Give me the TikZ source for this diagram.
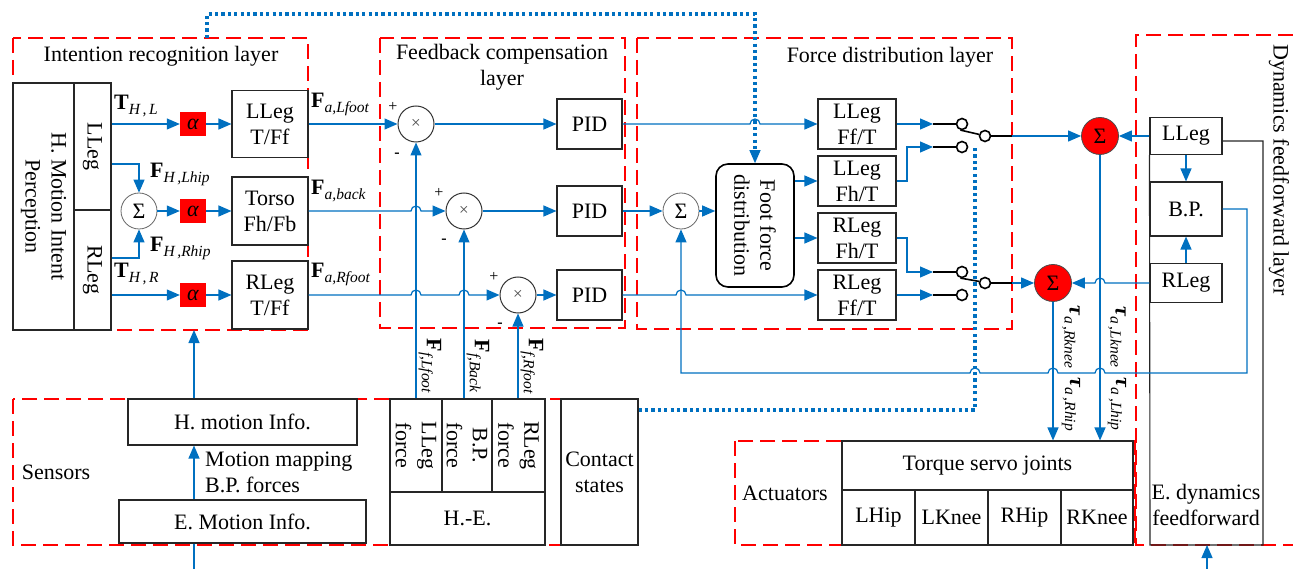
\documentclass[tikz,border=0pt]{standalone}
\usepackage{fontspec}
\setmainfont{Liberation Serif}
\usetikzlibrary{arrows.meta,calc}
\definecolor{fb}{HTML}{0070C0}
\definecolor{rd}{HTML}{FF0000}
\newcommand{\vlab}[2]{\textbf{#1}\raisebox{-5pt}{\fontsize{15.5}{16}\selectfont\textit{#2}}}
\begin{document}
\begin{tikzpicture}[x=1pt,y=-1pt,
  every node/.style={font=\fontsize{22}{26}\selectfont, inner sep=0pt, align=center},
  layer/.style={draw=rd, line width=2.3pt, dash pattern=on 15pt off 7pt},
  blk/.style={draw=black!85, line width=1.1pt, fill=white},
  conn/.style={draw=fb, line width=1.2pt},
  arr/.style={conn, -{Triangle[length=13pt,width=11pt]}},
  dotl/.style={draw=fb, line width=3.2pt, dash pattern=on 3.2pt off 3.2pt},
  sumc/.style={circle, draw=black!60, line width=0.8pt, fill=white, minimum size=36pt},
  redsum/.style={circle, draw=black!70, line width=0.8pt, fill=red, minimum size=37pt},
  mulc/.style={circle, draw=black!80, line width=1pt, fill=white, minimum size=36pt, font=\fontsize{17}{17}\selectfont\color{black!70}},
  alp/.style={fill=red, minimum width=26pt, minimum height=24pt},
  swc/.style={circle, draw=black, line width=1.6pt, fill=white, minimum size=11pt},
  swl/.style={draw=black, line width=1.6pt},
  sgn/.style={font=\fontsize{16}{16}\selectfont},
]
\useasboundingbox (0,0) rectangle (1293,569);

% ---------------- layers ----------------
\draw[layer] (13,38) rectangle (308,330);
\draw[layer] (380,38) rectangle (625,328);
\draw[layer] (637,38) rectangle (1012,329);
\draw[layer] (1293,35) -- (1136,35) -- (1136,545) -- (1293,545);
\draw[layer] (13,399) rectangle (638,545);
\draw[layer] (735,441) rectangle (1135,545);

\node at (161,56) {Intention recognition layer};
\node at (502,67) {Feedback compensation\\layer};
\node at (890,57) {Force distribution layer};
\node[rotate=-90] at (1279,170) {Dynamics feedforward layer};
\node at (56,472) {Sensors};
\node at (785,493) {Actuators};

% ---------------- intention layer ----------------
\node[blk, minimum width=61pt, minimum height=247pt] (hmip) at (43.5,206.5) {};
\node[rotate=-90] at (hmip) {H. Motion Intent\\Perception};
\node[blk, minimum width=37pt, minimum height=127pt] (lleg) at (92.5,146.5) {};
\node[rotate=-90] at (lleg) {LLeg};
\node[blk, minimum width=37pt, minimum height=120pt] (rleg) at (92.5,270) {};
\node[rotate=-90] at (rleg) {RLeg};

\node[alp] (a1) at (193,124) {\textit{α}};
\node[alp] (a2) at (193,211) {\textit{α}};
\node[alp] (a3) at (193,295) {\textit{α}};
\node[sumc] (sigL) at (139,211) {Σ};

\node[blk, minimum width=76pt, minimum height=67pt] (lt) at (270,124) {LLeg\\T/Ff};
\node[blk, minimum width=76pt, minimum height=68pt] (torso) at (270,211) {Torso\\Fh/Fb};
\node[blk, minimum width=76pt, minimum height=68pt] (rt) at (270,295) {RLeg\\T/Ff};

\draw[arr] (lleg.east |- a1.west) -- (a1.west);
\draw[arr] (a1.east) -- (lt.west);
\draw[arr] (lleg.east |- 0,164) -| (sigL.north);
\draw[arr] (rleg.east |- 0,258) -| (sigL.south);
\draw[arr] (sigL.east) -- (a2.west);
\draw[arr] (a2.east) -- (torso.west);
\draw[arr] (rleg.east |- a3.west) -- (a3.west);
\draw[arr] (a3.east) -- (rt.west);

\node[anchor=west] at (114,106) {\vlab{T}{H\,,\,L}};
\node[anchor=west] at (150,174) {\vlab{F}{H\,,Lhip}};
\node[anchor=west] at (150,248) {\vlab{F}{H\,,Rhip}};
\node[anchor=west] at (114,274) {\vlab{T}{H\,,\,R}};
\node[anchor=west] at (311,104) {\vlab{F}{a,Lfoot}};
\node[anchor=west] at (311,191) {\vlab{F}{a,back}};
\node[anchor=west] at (311,274) {\vlab{F}{a,Rfoot}};

% ---------------- feedback layer ----------------
\node[mulc] (m1) at (416,124) {×};
\node[mulc] (m2) at (464,211) {×};
\node[mulc] (m3) at (518,295) {×};
\node[blk, minimum width=65pt, minimum height=50pt] (pid1) at (589.5,124) {PID};
\node[blk, minimum width=65pt, minimum height=50pt] (pid2) at (589.5,211) {PID};
\node[blk, minimum width=65pt, minimum height=50pt] (pid3) at (589.5,295) {PID};

\node[sgn] at (393,107) {+};
\node[sgn] at (397,155) {\textbf{-}};
\node[sgn] at (439,193) {+};
\node[sgn] at (444,241) {\textbf{-}};
\node[sgn] at (494,277) {+};
\node[sgn] at (500,325) {\textbf{-}};

\draw[arr] (lt.east) -- (m1.west);
\draw[arr] (torso.east) -- (411,211) arc[start angle=180,end angle=360,radius=5] -- (m2.west);
\draw[arr] (rt.east) -- (411,295) arc[start angle=180,end angle=360,radius=5]
  -- (459,295) arc[start angle=180,end angle=360,radius=5] -- (m3.west);
\draw[arr] (m1.east) -- (pid1.west);
\draw[arr] (m2.east) -- (pid2.west);
\draw[arr] (m3.east) -- (pid3.west);

% ---------------- force distribution layer ----------------
\node[sumc] (sigF) at (681,211) {Σ};
\node[draw=black, line width=1.6pt, fill=white, rounded corners=12pt, minimum width=78pt, minimum height=123pt] (ffd) at (755,225.5) {};
\node[rotate=-90] at (ffd) {Foot force\\distribution};
\node[blk, minimum width=78pt, minimum height=50pt] (lf) at (857,124) {LLeg\\Ff/T};
\node[blk, minimum width=78pt, minimum height=50pt] (lh) at (857,181) {LLeg\\Fh/T};
\node[blk, minimum width=78pt, minimum height=50pt] (rh) at (857,238) {RLeg\\Fh/T};
\node[blk, minimum width=78pt, minimum height=50pt] (rf) at (857,295) {RLeg\\Ff/T};

\draw[arr] (pid1.east) -- (750,124) arc[start angle=180,end angle=360,radius=5] -- (lf.west);
\draw[arr] (pid2.east) -- (sigF.west);
\draw[arr] (sigF.east) -- (ffd.west |- sigF.east);
\draw[arr] (ffd.east |- lh.west) -- (lh.west);
\draw[arr] (ffd.east |- rh.west) -- (rh.west);
\draw[arr] (pid3.east) -- (676,295) arc[start angle=180,end angle=360,radius=5] -- (rf.west);

% switches
\node[swc] (s1a) at (962,124) {};
\node[swc] (s1b) at (962,147) {};
\node[swc] (s1c) at (985,136) {};
\node[swc] (s2a) at (962,272) {};
\node[swc] (s2b) at (962,295) {};
\node[swc] (s2c) at (985,283) {};
\coordinate (i1) at (933,124);
\coordinate (i2) at (933,147);
\coordinate (i3) at (933,272);
\coordinate (i4) at (933,295);
\draw[arr] (lf.east) -- (i1);
\draw[arr] (lh.east) -- (907,181) -- (907,147) -- (i2);
\draw[arr] (rh.east) -- (907,238) -- (907,272) -- (i3);
\draw[arr] (rf.east) -- (i4);
\draw[swl] (i1) -- (s1a.west);
\draw[swl] (i2) -- (s1b.west);
\draw[swl] (i3) -- (s2a.west);
\draw[swl] (i4) -- (s2b.west);
\draw[swl] (s1a.-105) -- (s1c.165);
\draw[swl] (s2a.-105) -- (s2c.165);
\coordinate (o1) at (1012,136);
\coordinate (o2) at (1012,283);
\draw[swl] (s1c.east) -- (o1);
\draw[swl] (s2c.east) -- (o2);

% ---------------- dynamics ----------------
\node[redsum] (sR1) at (1100,136) {Σ};
\node[redsum] (sR2) at (1053,283) {Σ};
\node[blk, minimum width=72pt, minimum height=37pt] (dl) at (1186,136) {LLeg};
\node[blk, minimum width=72pt, minimum height=54pt] (dbp) at (1186,209) {B.P.};
\node[blk, minimum width=72pt, minimum height=39pt] (dr) at (1186,283) {RLeg};
\draw[draw=black!85, line width=1.1pt] (dl.east |- 0,141) -- (1263,141) -- (1263,545) -- (1150,545) -- (dl.south west);
\node at (1206,505) {E. dynamics\\feedforward};
\coordinate (eb) at (1207,569);
\draw[arr] (eb) -- (1207,545);

\draw[arr] (o1) -- (sR1.west);
\draw[arr] (o2) -- (sR2.west);
\draw[arr] (dl.west) -- (sR1.east);
\draw[arr] (dr.west) -- (1105,283) arc[start angle=0,end angle=-180,radius=5] -- (sR2.east);
\draw[arr] (dl.south) -- (dbp.north);
\draw[arr] (dr.north) -- (dbp.south);

\draw[arr] (dbp.east) -- (1247,209) -- (1247,373) -- (1105,373)
  arc[start angle=0,end angle=-180,radius=5] -- (1058,373)
  arc[start angle=0,end angle=-180,radius=5] -- (980,373)
  arc[start angle=0,end angle=-180,radius=5] -- (681,373) -- (sigF.south);

% ---------------- actuators ----------------
\node[blk, minimum width=291pt, minimum height=49pt] (tsj) at (987.5,465.5) {Torque servo joints};
\node[blk, minimum width=73pt, minimum height=55pt] (j1) at (878.5,517.5) {LHip};
\node[blk, minimum width=73pt, minimum height=55pt] (j2) at (951.5,517.5) {LKnee};
\node[blk, minimum width=73pt, minimum height=55pt] (j3) at (1024.5,517.5) {RHip};
\node[blk, minimum width=72pt, minimum height=55pt] (j4) at (1097,517.5) {RKnee};

\draw[arr] (sR1.south) -- (sR1.south |- tsj.north);
\draw[arr] (sR2.south) -- (sR2.south |- tsj.north);
\node[rotate=-90] at (1071,337) {\vlab{\textit{τ}}{a\,,Rknee}};
\node[rotate=-90] at (1071,404) {\vlab{\textit{τ}}{a\,,Rhip}};
\node[rotate=-90] at (1117,337) {\vlab{\textit{τ}}{a\,,Lknee}};
\node[rotate=-90] at (1117,404) {\vlab{\textit{τ}}{a\,,Lhip}};

% ---------------- sensors ----------------
\node[blk, minimum width=229pt, minimum height=46pt] (hmi) at (242.5,422) {H. motion Info.};
\node[blk, minimum width=247pt, minimum height=43pt] (emi) at (242.5,521.5) {E. Motion Info.};
\node[anchor=west, align=left] at (205,472) {Motion mapping\\B.P. forces};
\coordinate (ib) at (194,330);
\draw[arr] (hmi.north -| ib) -- (ib);
\draw[arr] (emi.north -| ib) -- (hmi.south -| ib);
\coordinate (bot1) at (194,569);
\draw[conn] (bot1) -- (emi.south -| bot1);

\node[blk, minimum width=52pt, minimum height=93pt] (hef1) at (416,445.5) {};
\node[rotate=-90] at (hef1) {LLeg\\force};
\node[blk, minimum width=50pt, minimum height=93pt] (hef2) at (467,445.5) {};
\node[rotate=-90] at (hef2) {B.P.\\force};
\node[blk, minimum width=53pt, minimum height=93pt] (hef3) at (518.5,445.5) {};
\node[rotate=-90] at (hef3) {RLeg\\force};
\node[blk, minimum width=155pt, minimum height=53pt] (hefb) at (467.5,518.5) {H.-E.};
\node[blk, minimum width=77pt, minimum height=146pt] (cst) at (599.5,472) {Contact\\states};

\draw[arr] (m1.south |- hef1.north) -- (m1.south);
\draw[arr] (m2.south |- hef2.north) -- (m2.south);
\draw[arr] (m3.south |- hef3.north) -- (m3.south);
\node[rotate=-90] at (430,366) {\vlab{F}{f,Lfoot}};
\node[rotate=-90] at (478,366) {\vlab{F}{f,Back}};
\node[rotate=-90] at (532,366) {\vlab{F}{f,Rfoot}};

% ---------------- dotted contact links ----------------
\coordinate (d0) at (207,38);
\coordinate (d1) at (755,150);
\draw[dotl] (d0) -- (207,14) -- (755,14) -- (d1);
\draw[arr] (d1) -- (ffd.north);
\coordinate (d2) at (975,145);
\draw[dotl] (cst.east |- 0,410) -- (975,410) -- (d2);

\end{tikzpicture}
\end{document}
